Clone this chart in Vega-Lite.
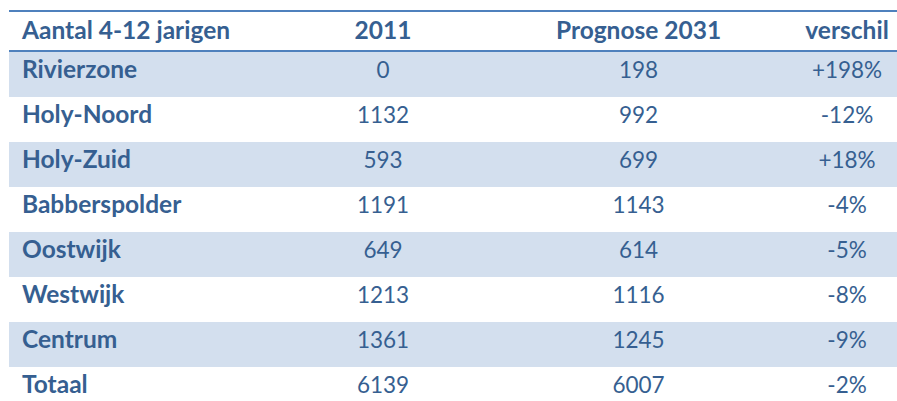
{
  "$schema": "https://vega.github.io/schema/vega-lite/v6.json",
  "background": "white",
  "padding": {"left": 8, "top": 0, "right": 0, "bottom": 0},
  "spacing": 0,
  "bounds": "flush",
  "config": {"view": {"stroke": null}, "concat": {"spacing": 0}},
  "data": {
    "values": [
      {"label": "Aantal 4-12 jarigen", "c2011": "2011", "c2031": "Prognose 2031", "verschil": "verschil", "header": true, "shaded": false},
      {"label": "Rivierzone", "c2011": "0", "c2031": "198", "verschil": "+198%", "header": false, "shaded": true},
      {"label": "Holy-Noord", "c2011": "1132", "c2031": "992", "verschil": "-12%", "header": false, "shaded": false},
      {"label": "Holy-Zuid", "c2011": "593", "c2031": "699", "verschil": "+18%", "header": false, "shaded": true},
      {"label": "Babberspolder", "c2011": "1191", "c2031": "1143", "verschil": "-4%", "header": false, "shaded": false},
      {"label": "Oostwijk", "c2011": "649", "c2031": "614", "verschil": "-5%", "header": false, "shaded": true},
      {"label": "Westwijk", "c2011": "1213", "c2031": "1116", "verschil": "-8%", "header": false, "shaded": false},
      {"label": "Centrum", "c2011": "1361", "c2031": "1245", "verschil": "-9%", "header": false, "shaded": true},
      {"label": "Totaal", "c2011": "6139", "c2031": "6007", "verschil": "-2%", "header": false, "shaded": false}
    ]
  },
  "hconcat": [
    {
      "width": 260, "height": 401,
      "layer": [
        {"transform": [{"filter": "datum.shaded"}], "mark": {"type": "rect", "color": "#D3DFEE"},
         "encoding": {"y": {"field": "label", "type": "nominal", "axis": null, "scale": {"domain": ["Aantal 4-12 jarigen","Rivierzone","Holy-Noord","Holy-Zuid","Babberspolder","Oostwijk","Westwijk","Centrum","Totaal"], "range": [7, 412], "paddingInner": 0, "paddingOuter": 0}}}},
        {"transform": [{"filter": "datum.header"}], "mark": {"type": "rule", "color": "#4F81BD", "strokeWidth": 2},
         "encoding": {"y": {"field": "label", "type": "nominal", "bandPosition": 0.089, "axis": null}}},
        {"transform": [{"filter": "datum.header"}], "mark": {"type": "rule", "color": "#4F81BD", "strokeWidth": 2},
         "encoding": {"y": {"field": "label", "type": "nominal", "bandPosition": 0.978, "axis": null}}},
        {"transform": [{"filter": "datum.header"}], "mark": {"type": "text", "font": "Lato", "fontWeight": "bold", "fontSize": 24.5, "color": "#365F91", "align": "left", "baseline": "alphabetic"},
         "encoding": {"x": {"datum": 0, "type": "quantitative", "scale": {"domain": [0, 1], "range": [13, 260]}, "axis": null},
                      "y": {"field": "label", "type": "nominal", "bandPosition": 0.711, "axis": null}, "text": {"field": "label"}}},
        {"transform": [{"filter": "!datum.header"}], "mark": {"type": "text", "font": "Lato", "fontWeight": "bold", "fontSize": 24.5, "color": "#365F91", "align": "left", "baseline": "alphabetic"},
         "encoding": {"x": {"datum": 0, "type": "quantitative", "axis": null},
                      "y": {"field": "label", "type": "nominal", "bandPosition": 0.584, "axis": null}, "text": {"field": "label"}}}
      ]
    },
    {
      "width": 228, "height": 401,
      "layer": [
        {"transform": [{"filter": "datum.shaded"}], "mark": {"type": "rect", "color": "#D3DFEE"},
         "encoding": {"y": {"field": "label", "type": "nominal", "axis": null, "scale": {"domain": ["Aantal 4-12 jarigen","Rivierzone","Holy-Noord","Holy-Zuid","Babberspolder","Oostwijk","Westwijk","Centrum","Totaal"], "range": [7, 412], "paddingInner": 0, "paddingOuter": 0}}}},
        {"transform": [{"filter": "datum.header"}], "mark": {"type": "rule", "color": "#4F81BD", "strokeWidth": 2},
         "encoding": {"y": {"field": "label", "type": "nominal", "bandPosition": 0.089, "axis": null}}},
        {"transform": [{"filter": "datum.header"}], "mark": {"type": "rule", "color": "#4F81BD", "strokeWidth": 2},
         "encoding": {"y": {"field": "label", "type": "nominal", "bandPosition": 0.978, "axis": null}}},
        {"transform": [{"filter": "datum.header"}], "mark": {"type": "text", "font": "Lato", "fontWeight": "bold", "fontSize": 24.5, "color": "#365F91", "align": "center", "baseline": "alphabetic"},
         "encoding": {"y": {"field": "label", "type": "nominal", "bandPosition": 0.711, "axis": null}, "text": {"field": "c2011"}}},
        {"transform": [{"filter": "!datum.header"}], "mark": {"type": "text", "font": "Lato", "fontSize": 22.5, "color": "#365F91", "align": "center", "baseline": "alphabetic"},
         "encoding": {"y": {"field": "label", "type": "nominal", "bandPosition": 0.584, "axis": null}, "text": {"field": "c2011"}}}
      ]
    },
    {
      "width": 283, "height": 401,
      "layer": [
        {"transform": [{"filter": "datum.shaded"}], "mark": {"type": "rect", "color": "#D3DFEE"},
         "encoding": {"y": {"field": "label", "type": "nominal", "axis": null, "scale": {"domain": ["Aantal 4-12 jarigen","Rivierzone","Holy-Noord","Holy-Zuid","Babberspolder","Oostwijk","Westwijk","Centrum","Totaal"], "range": [7, 412], "paddingInner": 0, "paddingOuter": 0}}}},
        {"transform": [{"filter": "datum.header"}], "mark": {"type": "rule", "color": "#4F81BD", "strokeWidth": 2},
         "encoding": {"y": {"field": "label", "type": "nominal", "bandPosition": 0.089, "axis": null}}},
        {"transform": [{"filter": "datum.header"}], "mark": {"type": "rule", "color": "#4F81BD", "strokeWidth": 2},
         "encoding": {"y": {"field": "label", "type": "nominal", "bandPosition": 0.978, "axis": null}}},
        {"transform": [{"filter": "datum.header"}], "mark": {"type": "text", "font": "Lato", "fontWeight": "bold", "fontSize": 24.5, "color": "#365F91", "align": "center", "baseline": "alphabetic"},
         "encoding": {"y": {"field": "label", "type": "nominal", "bandPosition": 0.711, "axis": null}, "text": {"field": "c2031"}}},
        {"transform": [{"filter": "!datum.header"}], "mark": {"type": "text", "font": "Lato", "fontSize": 22.5, "color": "#365F91", "align": "center", "baseline": "alphabetic"},
         "encoding": {"y": {"field": "label", "type": "nominal", "bandPosition": 0.584, "axis": null}, "text": {"field": "c2031"}}}
      ]
    },
    {
      "width": 118, "height": 401,
      "layer": [
        {"transform": [{"filter": "datum.shaded"}], "mark": {"type": "rect", "color": "#D3DFEE"},
         "encoding": {"y": {"field": "label", "type": "nominal", "axis": null, "scale": {"domain": ["Aantal 4-12 jarigen","Rivierzone","Holy-Noord","Holy-Zuid","Babberspolder","Oostwijk","Westwijk","Centrum","Totaal"], "range": [7, 412], "paddingInner": 0, "paddingOuter": 0}}}},
        {"transform": [{"filter": "datum.header"}], "mark": {"type": "rule", "color": "#4F81BD", "strokeWidth": 2},
         "encoding": {"y": {"field": "label", "type": "nominal", "bandPosition": 0.089, "axis": null}}},
        {"transform": [{"filter": "datum.header"}], "mark": {"type": "rule", "color": "#4F81BD", "strokeWidth": 2},
         "encoding": {"y": {"field": "label", "type": "nominal", "bandPosition": 0.978, "axis": null}}},
        {"transform": [{"filter": "datum.header"}], "mark": {"type": "text", "font": "Lato", "fontWeight": "bold", "fontSize": 24.5, "color": "#365F91", "align": "center", "baseline": "alphabetic", "dx": 8},
         "encoding": {"y": {"field": "label", "type": "nominal", "bandPosition": 0.711, "axis": null}, "text": {"field": "verschil"}}},
        {"transform": [{"filter": "!datum.header"}], "mark": {"type": "text", "font": "Lato", "fontSize": 22.5, "color": "#365F91", "align": "center", "baseline": "alphabetic", "dx": 8},
         "encoding": {"y": {"field": "label", "type": "nominal", "bandPosition": 0.584, "axis": null}, "text": {"field": "verschil"}}}
      ]
    }
  ]
}
